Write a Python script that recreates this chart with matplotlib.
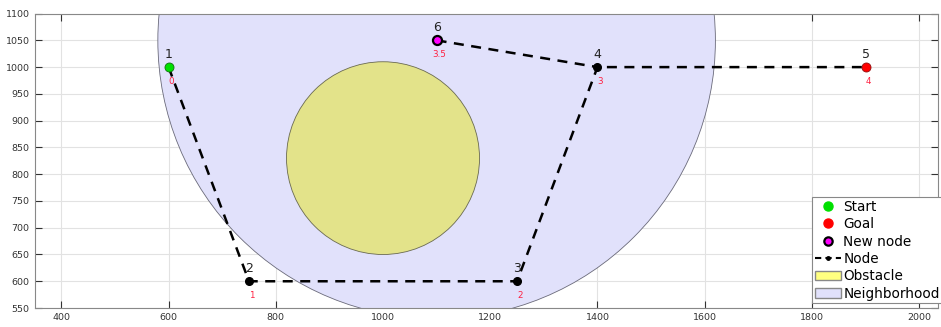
import matplotlib
matplotlib.use("Agg")
import matplotlib.pyplot as plt
from matplotlib.patches import Circle, Patch
from matplotlib.lines import Line2D

# node coordinates, ids and costs
node_x = [600, 750, 1250, 1400, 1900, 1100]
node_y = [1000, 600, 600, 1000, 1000, 1050]
node_ids = ["1", "2", "3", "4", "5", "6"]
node_cost = ["0", "1", "2", "3", "4", "3.5"]

# path 1-2-3-4-5 and new node 6 connected to 4
path_idx = [0, 1, 2, 3, 4]
new_edge_idx = [5, 3]

obstacle_center = (1000, 830)
obstacle_r = 180
neigh_center = (1100, 1050)
neigh_r = 520

fig = plt.figure(figsize=(9.41, 3.27), dpi=100)
ax = fig.add_axes([0.0367, 0.058, 0.96, 0.9005])

ax.add_patch(Circle(neigh_center, neigh_r, facecolor="#e1e1fb", edgecolor="#6a6a7a",
                    linewidth=0.6, zorder=1))
ax.add_patch(Circle(obstacle_center, obstacle_r, facecolor="#e3e38a", edgecolor="#6a6a50",
                    linewidth=0.6, zorder=2))

ax.plot([node_x[i] for i in path_idx], [node_y[i] for i in path_idx], "k--",
        linewidth=1.8, dashes=(4, 3), zorder=3)
ax.plot([node_x[i] for i in new_edge_idx], [node_y[i] for i in new_edge_idx], "k--",
        linewidth=1.8, dashes=(4, 3), zorder=3)

ax.plot(node_x[1:4], node_y[1:4], "o", color="black", markersize=5.5, zorder=4)
ax.plot(node_x[0], node_y[0], "o", color="#00e000", markeredgecolor="#107010",
        markersize=6.5, markeredgewidth=0.6, zorder=5)
ax.plot(node_x[4], node_y[4], "o", color="#ff0000", markeredgecolor="#901010",
        markersize=6.5, markeredgewidth=0.6, zorder=5)
ax.plot(node_x[5], node_y[5], "o", color="#ff00ff", markeredgecolor="black",
        markersize=6.5, markeredgewidth=1.6, zorder=5)

for x, y, nid, c in zip(node_x, node_y, node_ids, node_cost):
    ax.text(x, y + 12, nid, ha="center", va="bottom", fontsize=9, color="#222222", zorder=6)
    ax.text(x + 5, y - 18, c, ha="center", va="top", fontsize=6.3, color="#ff2040", zorder=6)

ax.set_xlim(350, 2035)
ax.set_ylim(550, 1100)
ax.set_xticks(range(400, 2001, 200))
ax.set_yticks(range(550, 1101, 50))
ax.tick_params(direction="in", length=5, labelsize=6.8, colors="#333333",
               top=True, right=True)
for s in ax.spines.values():
    s.set_color("#888888")
ax.grid(True, color="#e2e2e2", linewidth=0.8)
ax.set_axisbelow(True)

handles = [
    Line2D([], [], linestyle="none", marker="o", color="#00e000", markersize=6.5),
    Line2D([], [], linestyle="none", marker="o", color="#ff0000", markersize=6.5),
    Line2D([], [], linestyle="none", marker="o", color="#ff00ff", markeredgecolor="black",
           markeredgewidth=1.6, markersize=6),
    Line2D([], [], linestyle="--", marker=".", color="black", markersize=5, dashes=(3, 2)),
    Patch(facecolor="#ffff80", edgecolor="#888888"),
    Patch(facecolor="#e1e1fb", edgecolor="#888888"),
]
labels = ["Start", "Goal", "New node", "Node", "Obstacle", "Neighborhood"]
leg = ax.legend(handles, labels, loc="upper left", bbox_to_anchor=(812 / 941, 1 - 197 / 327),
                bbox_transform=fig.transFigure, fontsize=9.8, fancybox=False,
                framealpha=1, edgecolor="#888888", borderpad=0.2, labelspacing=0.25,
                handlelength=1.9, handletextpad=0.2, borderaxespad=0)
leg.get_frame().set_linewidth(0.8)
leg.set_zorder(10)

fig.savefig("out.png", dpi=100)
